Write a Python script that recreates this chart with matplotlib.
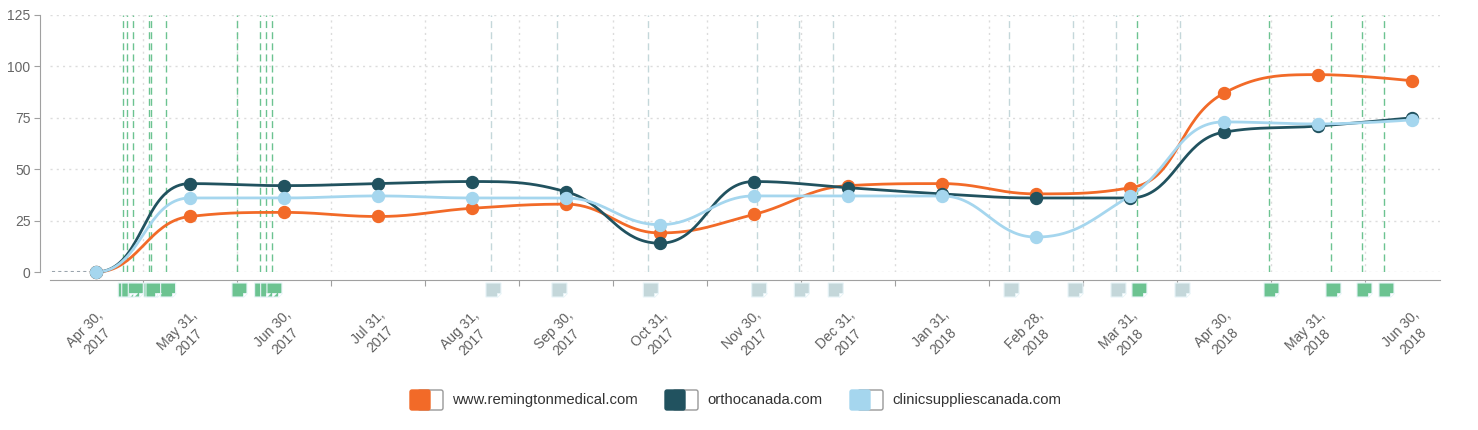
import numpy as np
import matplotlib
matplotlib.use("Agg")
import matplotlib.pyplot as plt
from matplotlib.patches import Polygon, FancyBboxPatch
from matplotlib.transforms import IdentityTransform

plt.rcParams['font.family'] = ['Liberation Sans', 'DejaVu Sans']

# ---------------- data ----------------
month_labels = ["Apr 30,\n2017", "May 31,\n2017", "Jun 30,\n2017", "Jul 31,\n2017",
                "Aug 31,\n2017", "Sep 30,\n2017", "Oct 31,\n2017", "Nov 30,\n2017",
                "Dec 31,\n2017", "Jan 31,\n2018", "Feb 28,\n2018", "Mar 31,\n2018",
                "Apr 30,\n2018", "May 31,\n2018", "Jun 30,\n2018"]
series_names = ["www.remingtonmedical.com", "orthocanada.com", "clinicsuppliescanada.com"]
remington = [0, 27, 29, 27, 31, 33, 19, 28, 42, 43, 38, 41, 87, 96, 93]
ortho = [0, 43, 42, 43, 44, 39, 14, 44, 41, 38, 36, 36, 68, 71, 75]
clinic = [0, 36, 36, 37, 36, 36, 23, 37, 37, 37, 17, 37, 73, 72, 74]
prior_value = 0  # value of the month before the first label (dotted lead-in)
# event annotations (positions in month-index units)
green_events = [0.29, 0.327, 0.397, 0.564, 0.585, 0.741, 1.50, 1.741, 1.805, 1.872,
                11.074, 12.479, 13.138, 13.468, 13.702]
grey_events = [4.202, 4.904, 5.876, 7.029, 7.482, 7.843, 9.713, 10.394, 10.851, 11.532]
y_ticks = [0, 25, 50, 75, 100, 125]

colors = ["#f26a28", "#21525f", "#a5d6ee"]
green_c = "#6cc391"
grey_c = "#c4d7da"

W, H = 1478, 430
fig = plt.figure(figsize=(W / 100, H / 100), dpi=100)
L, R, T, B = 50, 1440, 15, 272
ax = fig.add_axes([L / W, 1 - B / H, (R - L) / W, (B - T) / H])
ax.set_xlim(-0.489, 14.298)
ax.set_ylim(0, 125)

# spines
for s in ["top", "right"]:
    ax.spines[s].set_visible(False)
ax.spines["left"].set_position(("outward", 7))
ax.spines["bottom"].set_position(("outward", 6))
ax.spines["left"].set_color("#a0a0a0")
ax.spines["bottom"].set_color("#a0a0a0")

ax.set_yticks(y_ticks)
ax.tick_params(axis="y", length=4, color="#a0a0a0", labelsize=10, labelcolor="#666666", pad=3)
xpos = np.arange(len(month_labels))
ax.set_xticks(np.arange(0.5, len(month_labels) - 1, 1.0))
ax.set_xticklabels([])
ax.tick_params(axis="x", which="major", length=4, color="#a0a0a0")
ax.set_xticks(xpos, minor=True)
ax.set_xticklabels(month_labels, minor=True)
ax.tick_params(axis="x", which="minor", length=0, pad=20, labelsize=10, labelcolor="#606060")
for lab in ax.get_xticklabels(minor=True):
    lab.set_rotation(45)
    lab.set_ha("right")
    lab.set_va("top")
    lab.set_rotation_mode("anchor")
    lab.set_multialignment("center")
    lab.set_linespacing(1.3)

# gridlines
for yv in y_ticks:
    ax.axhline(yv, color="#dcdcdc", lw=1, ls=(0, (1.5, 3)), zorder=0)
for xv in np.arange(0.5, len(month_labels) - 1, 1.0):
    ax.axvline(xv, color="#dcdcdc", lw=1, ls=(0, (1.5, 3)), zorder=0)

# event lines
for e in grey_events:
    ax.axvline(e, color=grey_c, lw=1, ls=(0, (5, 3)), zorder=1)
for e in green_events:
    ax.axvline(e, color=green_c, lw=1, ls=(0, (5, 3)), zorder=1)


def hc_spline(px, py, smoothing=1.5):
    n = len(px)
    lc = [(px[i], py[i]) for i in range(n)]
    rc = [(px[i], py[i]) for i in range(n)]
    d = smoothing + 1
    for i in range(1, n - 1):
        x, y = px[i], py[i]
        lx, ly = px[i - 1], py[i - 1]
        nx, ny = px[i + 1], py[i + 1]
        lcx = (smoothing * x + lx) / d
        lcy = (smoothing * y + ly) / d
        rcx = (smoothing * x + nx) / d
        rcy = (smoothing * y + ny) / d
        dl = np.hypot(lcx - x, lcy - y)
        dr = np.hypot(rcx - x, rcy - y)
        la = np.arctan2(lcy - y, lcx - x)
        ra = np.arctan2(rcy - y, rcx - x)
        ja = np.pi / 2 + (la + ra) / 2
        if abs(la - ja) > np.pi / 2:
            ja -= np.pi
        lcx = x + np.cos(ja) * dl
        lcy = y + np.sin(ja) * dl
        rcx = x + np.cos(np.pi + ja) * dr
        rcy = y + np.sin(np.pi + ja) * dr
        if lcy > ly and lcy > y:
            lcy = max(ly, y)
            rcy = 2 * y - lcy
        elif lcy < ly and lcy < y:
            lcy = min(ly, y)
            rcy = 2 * y - lcy
        if rcy > ny and rcy > y:
            rcy = max(ny, y)
            lcy = 2 * y - rcy
        elif rcy < ny and rcy < y:
            rcy = min(ny, y)
            lcy = 2 * y - rcy
        lc[i] = (lcx, lcy)
        rc[i] = (rcx, rcy)
    t = np.linspace(0, 1, 40)[:, None]
    segs = []
    for i in range(1, n):
        p0 = np.array([px[i - 1], py[i - 1]])
        p1 = np.array(rc[i - 1])
        p2 = np.array(lc[i])
        p3 = np.array([px[i], py[i]])
        seg = ((1 - t) ** 3) * p0 + 3 * ((1 - t) ** 2) * t * p1 + 3 * (1 - t) * t ** 2 * p2 + t ** 3 * p3
        segs.append(seg)
    return segs


inv = ax.transData.inverted()
xs_full = np.concatenate([[-1], xpos])
for k, (vals, c) in enumerate(zip([remington, ortho, clinic], colors)):
    vals_full = np.concatenate([[prior_value], vals])
    disp = ax.transData.transform(np.column_stack([xs_full, vals_full]))
    segs = hc_spline(disp[:, 0], disp[:, 1])
    lead = inv.transform(segs[0])
    main = inv.transform(np.vstack([s if j == 0 else s[1:] for j, s in enumerate(segs[1:])]))
    if k == 2:
        ax.plot(lead[:, 0], lead[:, 1], color="#9aa4ad", lw=1.5, ls=(0, (1.5, 1.5)), zorder=2)
    ax.plot(main[:, 0], main[:, 1], color=c, lw=2, zorder=3, clip_on=False,
            solid_capstyle="round")
    ax.plot(xpos, vals, ls="none", marker="o", ms=8.6, color=c, mec=c, zorder=4, clip_on=False)

# event document markers below axis (pixel geometry)
ident = IdentityTransform()
top_px, bot_px = H - 283, H - 297
fold = 4


def doc_marker(xe, fc):
    xd = ax.transData.transform((xe, 0))[0]
    x0, x1 = xd - 5, xd + 10
    poly = Polygon([(x0, top_px), (x1, top_px), (x1, bot_px + fold), (x1 - fold, bot_px), (x0, bot_px)],
                   closed=True, facecolor=fc, edgecolor="#e8f4f8", lw=0.8, transform=ident, zorder=5)
    fig.add_artist(poly)
    tri = Polygon([(x1 - fold, bot_px), (x1 - fold, bot_px + fold), (x1, bot_px + fold)], closed=True,
                  facecolor="#ffffff", edgecolor="#e8f4f8", lw=0.6, transform=ident, zorder=6)
    fig.add_artist(tri)


for e in grey_events:
    doc_marker(e, grey_c)
for e in green_events:
    doc_marker(e, green_c)

# legend
leg_x = [410, 665, 850]
leg_yc = H - 400
for name, c, lx in zip(series_names, colors, leg_x):
    white = FancyBboxPatch((lx + 8, leg_yc - 10), 25, 20, boxstyle="round,pad=0,rounding_size=2",
                           facecolor="white", edgecolor="#999999", lw=1, transform=ident)
    fig.add_artist(white)
    col = FancyBboxPatch((lx, leg_yc - 10), 20, 20, boxstyle="round,pad=0,rounding_size=2",
                         facecolor=c, edgecolor=c, lw=1, transform=ident)
    fig.add_artist(col)
    fig.text((lx + 42) / W, leg_yc / H, name, ha="left", va="center", fontsize=10.7, color="#333333")

fig.savefig("out.png", dpi=100)
